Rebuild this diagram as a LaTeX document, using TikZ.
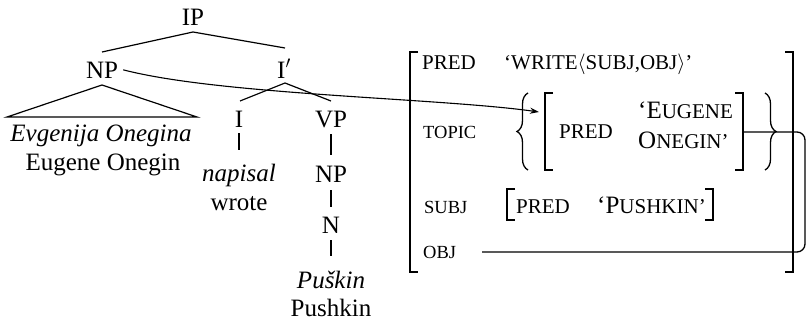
\documentclass[tikz,border=0pt]{standalone}
\usepackage{fontspec}
\setmainfont{Liberation Serif}
\usetikzlibrary{decorations.pathreplacing,arrows.meta}
\newcommand\mysc[1]{{\fontsize{21}{25}\selectfont #1}}
\newcommand\myattr[1]{{\fontsize{18.5}{22}\selectfont #1}}
\begin{document}
\begin{tikzpicture}[x=1pt,y=-1pt,
  every node/.style={inner sep=0pt, anchor=base, font=\fontsize{25}{30}\selectfont},
  treeline/.style={line width=1.2pt},
  brk/.style={line width=1.6pt},
  lbl/.style={anchor=base west},
  bracestyle/.style={line width=1.3pt, decorate, decoration={brace, amplitude=11pt}}]
\useasboundingbox (0,0) rectangle (809,321);
% tree
\node (IP) at (193,26) {IP};
\node (NP) at (102,78) {NP};
\node (Ib) at (284,78) {I$'$};
\node (evg) at (101,141) {\itshape Evgenija Onegina};
\node (eug) at (103,170) {Eugene Onegin};
\node (I) at (239,127) {I};
\node (VP) at (331,127) {VP};
\node (nap) at (239,181) {\itshape napisal};
\node (wro) at (239,210) {wrote};
\node (NPb) at (331,182) {NP};
\node (N) at (331,233) {N};
\node (pki) at (331,288) {\itshape Puškin};
\node (pk) at (331,316) {Pushkin};
\coordinate (tL) at (7,117);
\coordinate (tR) at (197,117);
\draw[treeline] ([yshift=26pt]NP.base) -- ([yshift=-6pt]IP.base) -- ([xshift=1pt,yshift=30pt]Ib.base);
\draw[treeline] (tL) -- ([yshift=-7pt]NP.base) -- (tR) -- cycle;
\draw[treeline] ([xshift=1pt,yshift=26pt]I.base) -- ([xshift=1pt,yshift=-5pt]Ib.base) -- ([yshift=26pt]VP.base);
\draw[treeline] ([yshift=-6pt]I.base) -- ([yshift=31pt]nap.base);
\draw[treeline] ([yshift=-7pt]VP.base) -- ([yshift=27pt]NPb.base);
\draw[treeline] ([yshift=-8pt]NPb.base) -- ([yshift=26pt]N.base);
\draw[treeline] ([yshift=-7pt]N.base) -- ([yshift=32pt]pki.base);
% AVM outer
\draw[brk] (418,52) -- (410,52) -- (410,272) -- (418,272);
\draw[brk] (785,52) -- (793,52) -- (793,272) -- (785,272);
\node[lbl] (pred) at (422,69.5) {\mysc{PRED}};
\node[lbl] (write) at (504,69.5) {\mysc{‘WRITE$\langle$SUBJ,OBJ$\rangle$’}};
\node[lbl] (topic) at (423,139) {\myattr{TOPIC}};
\node[lbl] (subj) at (424,213) {\myattr{SUBJ}};
\node[lbl] (obj) at (423,258) {\myattr{OBJ}};
% topic value
\draw[bracestyle] (528,170) -- (528,93);
\draw[brk] (553,93) -- (545,93) -- (545,170) -- (553,170);
\node[lbl] (ipred) at (559,139) {\mysc{PRED}};
\node[lbl] (eug1) at (638,118) {‘E\mysc{UGENE}};
\node[lbl] (eug2) at (638,148) {O\mysc{NEGIN’}};
\draw[brk] (735,93) -- (743,93) -- (743,170) -- (735,170);
\draw[bracestyle] (765,93) -- (765,170);
% subj value
\draw[brk] (515,189) -- (507,189) -- (507,220) -- (515,220);
\node[lbl] (spred) at (516,213) {\mysc{PRED}};
\node[lbl] (spk) at (597,213) {‘P\mysc{USHKIN’}};
\draw[brk] (705,189) -- (713,189) -- (713,220) -- (705,220);
% connectors
\coordinate (arrowend) at (539,112);
\draw[line width=1.1pt, -{Stealth[length=9pt,width=6pt]}] ([xshift=5pt]NP.east) .. controls (220,95) and (440,98) .. (arrowend);
\coordinate (ir) at (743,132);
\coordinate (oe) at (482,252);
\draw[line width=1.3pt, rounded corners=8pt] (ir) -- (805,132) -- (805,252) -- (oe);
\end{tikzpicture}
\end{document}
